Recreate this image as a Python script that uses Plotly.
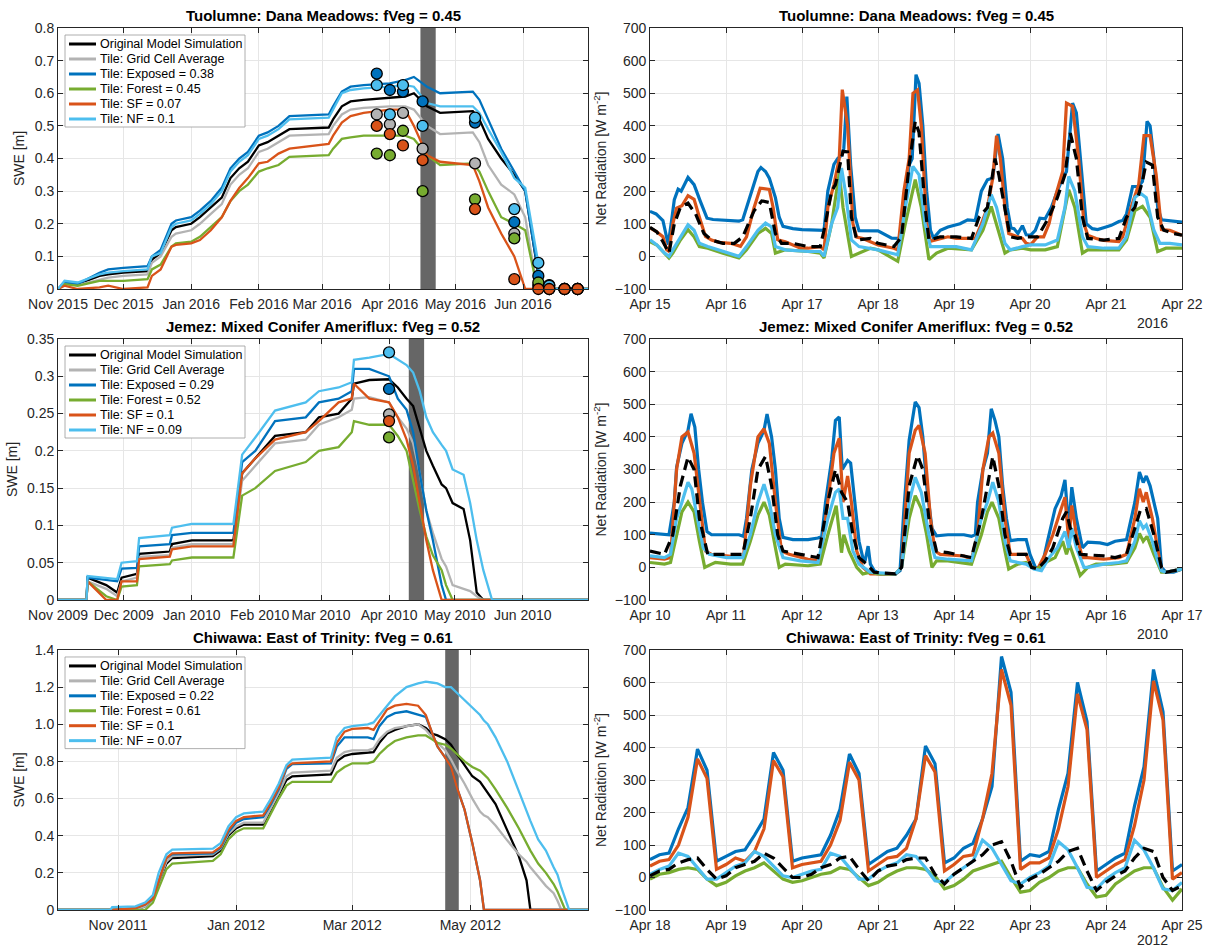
import pandas as pd
import plotly.graph_objects as go

# ---------------- figure geometry ----------------
W, H = 1207, 947
M_L, M_R, M_T, M_B = 58, 25, 28, 37
PW, PH = W - M_L - M_R, H - M_T - M_B

# ---------------- colours / labels ----------------
C_ORIG, C_GRID, C_EXP, C_FOR, C_SF, C_NF = "#000000", "#b3b3b3", "#0072BD", "#77AC30", "#D95319", "#4DBEEE"
C_BAND = "#666666"

TITLE_TL = "Tuolumne: Dana Meadows: fVeg = 0.45"
TITLE_ML = "Jemez: Mixed Conifer Ameriflux: fVeg = 0.52"
TITLE_BL = "Chiwawa: East of Trinity: fVeg = 0.61"

LEG_TL = ["Original Model Simulation", "Tile: Grid Cell Average", "Tile: Exposed = 0.38",
          "Tile: Forest = 0.45", "Tile: SF = 0.07", "Tile: NF = 0.1"]
LEG_ML = ["Original Model Simulation", "Tile: Grid Cell Average", "Tile: Exposed = 0.29",
          "Tile: Forest = 0.52", "Tile: SF = 0.1", "Tile: NF = 0.09"]
LEG_BL = ["Original Model Simulation", "Tile: Grid Cell Average", "Tile: Exposed = 0.22",
          "Tile: Forest = 0.61", "Tile: SF = 0.1", "Tile: NF = 0.07"]

# ---------------- SWE panels (days since start, values in m) ----------------
TL_START = "2015-11-01"
TL_DAYS = [0, 3, 9, 19, 23, 30, 41, 43, 47, 52, 54, 61, 65, 70, 75, 79, 83, 87, 92, 96, 101, 106,
           124, 126, 130, 134, 140, 152, 159, 163, 169, 175, 190, 193, 197, 203, 209, 214, 218, 221, 224, 243]
TL_ORIG = [0, 0.02, 0.015, 0.04, 0.045, 0.05, 0.055, 0.09, 0.11, 0.18, 0.19, 0.2, 0.22, 0.25, 0.28, 0.34, 0.37,
           0.39, 0.44, 0.45, 0.47, 0.49, 0.495, 0.52, 0.56, 0.575, 0.58, 0.585, 0.59, 0.6, 0.56, 0.54, 0.545,
           0.52, 0.46, 0.4, 0.35, 0.3, 0.13, 0.0, 0, 0]
TL_GRID = [0, 0.02, 0.012, 0.03, 0.035, 0.04, 0.045, 0.08, 0.1, 0.16, 0.17, 0.18, 0.2, 0.23, 0.26, 0.32, 0.35,
           0.37, 0.42, 0.43, 0.45, 0.47, 0.475, 0.5, 0.535, 0.55, 0.555, 0.56, 0.56, 0.55, 0.5, 0.475, 0.48,
           0.45, 0.38, 0.32, 0.29, 0.22, 0.06, 0.0, 0, 0]
TL_EXP = [0, 0.02, 0.015, 0.05, 0.06, 0.065, 0.07, 0.1, 0.12, 0.2, 0.21, 0.22, 0.24, 0.27, 0.31, 0.37, 0.4,
          0.42, 0.47, 0.48, 0.5, 0.53, 0.535, 0.56, 0.605, 0.62, 0.625, 0.63, 0.64, 0.65, 0.62, 0.6, 0.605,
          0.58, 0.52, 0.43, 0.36, 0.3, 0.13, 0.02, 0, 0]
TL_FOR = [0, 0.015, 0.01, 0.025, 0.025, 0.025, 0.03, 0.06, 0.075, 0.13, 0.14, 0.145, 0.16, 0.19, 0.22, 0.27,
          0.3, 0.32, 0.36, 0.37, 0.38, 0.405, 0.41, 0.43, 0.46, 0.465, 0.47, 0.47, 0.47, 0.46, 0.41, 0.38,
          0.385, 0.36, 0.3, 0.22, 0.2, 0.18, 0.05, 0.0, 0, 0]
TL_SF = [0, 0.01, 0.0, 0.005, 0.01, 0.0, 0.005, 0.04, 0.06, 0.13, 0.135, 0.14, 0.15, 0.18, 0.22, 0.27, 0.31,
         0.34, 0.385, 0.39, 0.415, 0.43, 0.445, 0.47, 0.51, 0.53, 0.54, 0.55, 0.55, 0.5, 0.41, 0.39, 0.38,
         0.33, 0.25, 0.17, 0.1, 0.0, 0, 0, 0, 0]
TL_NF = [0, 0.025, 0.02, 0.045, 0.05, 0.055, 0.06, 0.1, 0.11, 0.19, 0.2, 0.21, 0.23, 0.26, 0.3, 0.36, 0.39,
         0.41, 0.46, 0.47, 0.49, 0.52, 0.525, 0.55, 0.6, 0.61, 0.615, 0.62, 0.625, 0.62, 0.57, 0.56, 0.56,
         0.54, 0.49, 0.42, 0.34, 0.31, 0.15, 0.04, 0, 0]
# observations (snow survey points)
TL_OBS_DATES = ["2016-03-26", "2016-04-01", "2016-04-07", "2016-04-16", "2016-05-10", "2016-05-28",
                "2016-06-08", "2016-06-13", "2016-06-20", "2016-06-26"]
TL_OBS_GRID = [0.535, 0.505, 0.54, 0.43, 0.385, 0.17, 0.01, 0.0, 0.0, 0.0]
TL_OBS_EXP = [0.66, 0.61, 0.605, 0.575, 0.51, 0.205, 0.04, 0.012, 0.0, 0.0]
TL_OBS_FOR = [0.415, 0.41, 0.485, 0.3, 0.275, 0.155, 0.02, 0.0, 0.0, 0.0]
TL_OBS_NF = [0.625, 0.535, 0.625, 0.5, 0.525, 0.245, 0.08, 0.01, 0.0, 0.0]
TL_OBS_SF = [0.5, 0.475, 0.44, 0.395, 0.245, 0.03, 0.0, 0.0, 0.0, 0.0]

ML_START = "2009-11-01"
ML_DAYS = [0, 13, 13.5, 22, 27, 29, 36, 37, 51, 52, 61, 80, 84, 90, 99, 113, 119, 128, 134, 135, 142, 151,
           155, 159, 162, 165, 168, 171, 175, 177, 180, 185, 188, 191, 194, 198, 242]
ML_ORIG = [0, 0, 0.03, 0.02, 0.01, 0.03, 0.035, 0.062, 0.065, 0.075, 0.08, 0.08, 0.17, 0.19, 0.22, 0.225,
           0.245, 0.25, 0.27, 0.29, 0.295, 0.296, 0.285, 0.27, 0.26, 0.23, 0.2, 0.18, 0.155, 0.15, 0.13,
           0.122, 0.08, 0.01, 0, 0, 0]
ML_GRID = [0, 0, 0.025, 0.015, 0.005, 0.025, 0.03, 0.058, 0.06, 0.07, 0.075, 0.075, 0.16, 0.18, 0.21, 0.215,
           0.235, 0.245, 0.255, 0.27, 0.272, 0.265, 0.245, 0.23, 0.21, 0.17, 0.12, 0.09, 0.055, 0.045, 0.02,
           0.015, 0.012, 0.005, 0, 0, 0]
ML_EXP = [0, 0, 0.03, 0.027, 0.025, 0.042, 0.043, 0.072, 0.075, 0.087, 0.09, 0.09, 0.185, 0.2, 0.24, 0.245,
          0.265, 0.27, 0.28, 0.31, 0.31, 0.3, 0.27, 0.255, 0.225, 0.17, 0.12, 0.08, 0.02, 0, 0, 0, 0, 0, 0, 0, 0]
ML_FOR = [0, 0, 0.025, 0.005, 0.0, 0.018, 0.02, 0.045, 0.048, 0.053, 0.057, 0.057, 0.14, 0.15, 0.173, 0.185,
          0.2, 0.205, 0.225, 0.24, 0.235, 0.235, 0.22, 0.2, 0.16, 0.12, 0.085, 0.06, 0.04, 0.02, 0, 0, 0, 0,
          0, 0, 0]
ML_SF = [0, 0, 0.025, 0.0, 0.0, 0.025, 0.025, 0.055, 0.058, 0.068, 0.072, 0.072, 0.17, 0.19, 0.215, 0.225,
         0.24, 0.265, 0.27, 0.29, 0.27, 0.265, 0.245, 0.215, 0.18, 0.13, 0.08, 0.04, 0.0, 0, 0, 0, 0, 0, 0, 0, 0]
ML_NF = [0, 0, 0.032, 0.03, 0.028, 0.05, 0.052, 0.083, 0.087, 0.097, 0.102, 0.102, 0.195, 0.218, 0.254,
         0.265, 0.28, 0.285, 0.292, 0.322, 0.325, 0.33, 0.322, 0.315, 0.305, 0.28, 0.245, 0.225, 0.208, 0.2,
         0.175, 0.168, 0.13, 0.08, 0.04, 0, 0]
ML_OBS_DATES = ["2010-04-01"]
ML_OBS_GRID = [0.249]
ML_OBS_EXP = [0.283]
ML_OBS_FOR = [0.218]
ML_OBS_NF = [0.332]
ML_OBS_SF = [0.24]

BL_START = "2011-10-01"
BL_DAYS = [0, 27, 28, 40, 45, 49, 52, 56, 59, 80, 84, 88, 92, 96, 106, 110, 114, 118, 121, 141, 144, 148,
           152, 160, 163, 166, 170, 174, 180, 186, 190, 193, 196, 200, 203, 206, 210, 214, 218, 220, 222,
           226, 232, 238, 242, 244, 248, 252, 256, 258, 260, 262, 264, 274]
BL_ORIG = [0, 0, 0, 0.0, 0.02, 0.06, 0.15, 0.25, 0.28, 0.29, 0.32, 0.4, 0.44, 0.46, 0.46, 0.54, 0.62, 0.7,
           0.72, 0.73, 0.8, 0.83, 0.84, 0.85, 0.85, 0.9, 0.95, 0.97, 0.99, 1.0, 0.98, 0.95, 0.94, 0.92, 0.89,
           0.84, 0.78, 0.72, 0.69, 0.66, 0.63, 0.57, 0.43, 0.29, 0.16, 0.0, 0, 0, 0, 0, 0, 0, 0, 0]
BL_GRID = [0, 0, 0, 0.0, 0.02, 0.06, 0.15, 0.26, 0.29, 0.3, 0.33, 0.41, 0.45, 0.47, 0.47, 0.55, 0.63, 0.72,
           0.74, 0.75, 0.82, 0.85, 0.86, 0.86, 0.87, 0.92, 0.96, 0.98, 0.99, 1.0, 0.97, 0.93, 0.9, 0.86, 0.81,
           0.75, 0.68, 0.6, 0.53, 0.51, 0.5, 0.455, 0.375, 0.3, 0.26, 0.23, 0.18, 0.13, 0.09, 0.05, 0.0, 0,
           0, 0]
BL_EXP = [0, 0, 0, 0.01, 0.03, 0.06, 0.15, 0.28, 0.3, 0.305, 0.335, 0.42, 0.47, 0.49, 0.5, 0.57, 0.65, 0.76,
          0.785, 0.79, 0.88, 0.93, 0.93, 0.93, 0.92, 0.99, 1.04, 1.06, 1.07, 1.05, 1.04, 0.96, 0.88, 0.82,
          0.77, 0.66, 0.54, 0.36, 0.16, 0.0, 0, 0, 0, 0, 0, 0, 0, 0, 0, 0, 0, 0, 0, 0]
BL_FOR = [0, 0, 0, 0, 0.0, 0.04, 0.12, 0.22, 0.25, 0.265, 0.3, 0.38, 0.42, 0.44, 0.44, 0.52, 0.6, 0.67, 0.69,
          0.69, 0.74, 0.77, 0.79, 0.79, 0.8, 0.84, 0.88, 0.91, 0.93, 0.94, 0.94, 0.92, 0.9, 0.89, 0.87, 0.84,
          0.8, 0.77, 0.75, 0.73, 0.71, 0.65, 0.55, 0.44, 0.36, 0.32, 0.25, 0.2, 0.14, 0.1, 0.05, 0.0, 0, 0]
BL_SF = [0, 0, 0, 0.01, 0.03, 0.06, 0.15, 0.28, 0.305, 0.31, 0.34, 0.43, 0.48, 0.5, 0.51, 0.58, 0.66, 0.77,
         0.79, 0.8, 0.9, 0.96, 0.975, 0.98, 0.97, 1.02, 1.08, 1.1, 1.11, 1.1, 1.05, 0.96, 0.88, 0.82, 0.77,
         0.66, 0.54, 0.36, 0.16, 0.0, 0, 0, 0, 0, 0, 0, 0, 0, 0, 0, 0, 0, 0, 0]
BL_NF = [0, 0, 0.015, 0.02, 0.04, 0.08, 0.2, 0.3, 0.325, 0.33, 0.36, 0.45, 0.5, 0.52, 0.53, 0.6, 0.68, 0.78,
         0.81, 0.82, 0.93, 0.98, 0.99, 1.0, 1.01, 1.05, 1.1, 1.15, 1.2, 1.22, 1.23, 1.225, 1.22, 1.2, 1.2,
         1.17, 1.13, 1.09, 1.05, 1.02, 1.0, 0.93, 0.8, 0.64, 0.53, 0.48, 0.38, 0.32, 0.23, 0.19, 0.12, 0.06,
         0, 0]

# study weeks shown in the right panels
BAND_TL = ["2016-04-15", "2016-04-22"]
BAND_ML = ["2010-04-10", "2010-04-17"]
BAND_BL = ["2012-04-18", "2012-04-25"]

# visible date windows of the SWE panels
RANGE_TL = ["2015-11-01", "2016-06-30 18:00"]
RANGE_ML = ["2009-11-01", "2010-06-30 18:00"]
RANGE_BL = ["2011-10-01", "2012-06-30 18:00"]

# ---------------- Net radiation panels: (days since start, W m-2) ----------------
TR_START = "2016-04-15"
TR_EXP = [(0, 138), (0.08, 130), (0.17, 110), (0.24, 36), (0.29, 120), (0.32, 174), (0.37, 206), (0.41, 200),
          (0.50, 242), (0.58, 220), (0.66, 170), (0.75, 117), (0.83, 113), (1.0, 110), (1.17, 108), (1.22, 112),
          (1.42, 260), (1.46, 272), (1.52, 260), (1.57, 240), (1.65, 180), (1.70, 120), (1.75, 92), (1.88, 85),
          (2.0, 82), (2.29, 80), (2.34, 200), (2.42, 282), (2.47, 300), (2.52, 310), (2.55, 330), (2.59, 490),
          (2.64, 280), (2.70, 120), (2.75, 79), (3.0, 78), (3.18, 56), (3.29, 55), (3.31, 60), (3.37, 200),
          (3.41, 280), (3.45, 300), (3.50, 557), (3.54, 530), (3.59, 400), (3.64, 200), (3.69, 80), (3.73, 56),
          (3.82, 80), (3.92, 90), (4.0, 95), (4.08, 100), (4.18, 112), (4.28, 110), (4.36, 200), (4.44, 235),
          (4.51, 240), (4.58, 375), (4.64, 300), (4.70, 150), (4.75, 87), (4.79, 85), (4.84, 70), (4.90, 94),
          (4.95, 66), (5.01, 65), (5.07, 80), (5.13, 117), (5.20, 115), (5.28, 150), (5.36, 200), (5.43, 240),
          (5.48, 260), (5.56, 470), (5.61, 440), (5.66, 300), (5.74, 100), (5.82, 85), (5.89, 82), (6.0, 90),
          (6.07, 95), (6.17, 107), (6.22, 110), (6.27, 130), (6.35, 214), (6.43, 215), (6.48, 230), (6.54, 414),
          (6.58, 400), (6.63, 300), (6.68, 150), (6.73, 112), (6.84, 110), (7.0, 105)]
TR_SF = [(0, 87), (0.09, 75), (0.17, 60), (0.22, 20), (0.25, 15), (0.30, 100), (0.35, 148), (0.42, 155),
         (0.50, 186), (0.58, 175), (0.65, 120), (0.73, 61), (0.81, 50), (0.91, 43), (1.06, 40), (1.14, 35),
         (1.19, 31), (1.27, 60), (1.37, 150), (1.45, 209), (1.57, 205), (1.62, 150), (1.68, 51), (1.78, 45),
         (1.88, 35), (1.98, 25), (2.08, 25), (2.24, 30), (2.29, 20), (2.34, 150), (2.42, 220), (2.49, 300),
         (2.53, 511), (2.60, 400), (2.67, 100), (2.72, 59), (2.80, 55), (2.90, 45), (3.0, 35), (3.21, 25),
         (3.26, 20), (3.34, 200), (3.41, 300), (3.46, 500), (3.52, 510), (3.57, 400), (3.64, 100), (3.69, 46),
         (3.77, 50), (3.92, 60), (4.03, 55), (4.28, 55), (4.36, 100), (4.44, 150), (4.51, 240), (4.56, 370),
         (4.61, 300), (4.67, 150), (4.72, 70), (4.82, 61), (4.90, 55), (4.95, 40), (5.01, 36), (5.10, 60),
         (5.18, 60), (5.25, 100), (5.33, 180), (5.43, 260), (5.48, 470), (5.56, 460), (5.64, 300), (5.71, 100),
         (5.76, 65), (5.87, 55), (5.97, 49), (6.17, 45), (6.22, 60), (6.33, 150), (6.43, 220), (6.50, 370),
         (6.58, 370), (6.66, 250), (6.73, 82), (6.84, 80), (7.0, 65)]
TR_ORIG = [(0, 89), (0.09, 75), (0.17, 45), (0.25, 10), (0.32, 100), (0.40, 150), (0.50, 163), (0.60, 130),
           (0.71, 70), (0.81, 50), (0.96, 40), (1.11, 40), (1.22, 60), (1.37, 140), (1.47, 170), (1.57, 165),
           (1.65, 70), (1.73, 40), (1.88, 40), (2.08, 30), (2.24, 30), (2.29, 80), (2.39, 200), (2.44, 220),
           (2.54, 322), (2.60, 320), (2.65, 120), (2.72, 50), (2.90, 55), (3.0, 40), (3.21, 30), (3.31, 60),
           (3.41, 280), (3.49, 414), (3.54, 380), (3.62, 150), (3.67, 50), (3.82, 60), (4.03, 60), (4.23, 55),
           (4.33, 120), (4.44, 150), (4.54, 300), (4.59, 250), (4.69, 120), (4.74, 60), (4.84, 55), (4.95, 60),
           (5.10, 60), (5.25, 120), (5.36, 180), (5.46, 250), (5.53, 378), (5.61, 300), (5.69, 120), (5.76, 55),
           (5.97, 50), (6.17, 55), (6.27, 120), (6.38, 150), (6.48, 230), (6.53, 289), (6.61, 280), (6.68, 120),
           (6.76, 80), (6.89, 70), (7.0, 65)]
TR_NF = [(0, 51), (0.09, 35), (0.19, 10), (0.25, 0), (0.30, 20), (0.40, 60), (0.50, 97), (0.58, 80), (0.65, 40),
         (0.76, 30), (0.96, 15), (1.17, 0), (1.27, 30), (1.42, 80), (1.52, 102), (1.60, 90), (1.65, 30),
         (1.78, 20), (2.08, 15), (2.24, 15), (2.29, 0), (2.39, 100), (2.47, 150), (2.52, 271), (2.57, 200),
         (2.65, 50), (2.75, 30), (3.0, 20), (3.26, 5), (3.36, 150), (3.46, 276), (3.54, 250), (3.62, 100),
         (3.69, 30), (3.82, 30), (4.03, 30), (4.23, 20), (4.38, 100), (4.49, 189), (4.56, 150), (4.67, 40),
         (4.74, 20), (4.90, 30), (5.01, 35), (5.20, 35), (5.36, 50), (5.46, 150), (5.51, 245), (5.59, 200),
         (5.69, 60), (5.76, 30), (5.97, 25), (6.17, 25), (6.27, 60), (6.38, 180), (6.45, 194), (6.53, 180),
         (6.63, 80), (6.71, 40), (6.84, 40), (7.0, 35)]
TR_FOR = [(0, 45), (0.09, 35), (0.19, 10), (0.25, -5), (0.30, 10), (0.40, 50), (0.50, 82), (0.58, 60),
          (0.65, 30), (0.76, 25), (0.96, 10), (1.17, -5), (1.27, 20), (1.42, 70), (1.52, 86), (1.60, 70),
          (1.65, 10), (1.78, 20), (2.08, 15), (2.24, 10), (2.29, -5), (2.39, 100), (2.49, 255), (2.54, 150),
          (2.65, 0), (2.75, 10), (2.90, 25), (3.0, 20), (3.26, -15), (3.36, 100), (3.49, 235), (3.57, 150),
          (3.67, -10), (3.77, 10), (3.92, 25), (4.23, 20), (4.38, 80), (4.49, 153), (4.56, 100), (4.67, 10),
          (4.74, 20), (4.90, 25), (5.01, 20), (5.20, 20), (5.36, 30), (5.46, 150), (5.51, 204), (5.59, 150),
          (5.69, 10), (5.76, 20), (5.97, 20), (6.17, 20), (6.27, 50), (6.38, 140), (6.48, 153), (6.58, 120),
          (6.68, 15), (6.79, 25), (7.0, 25)]

MR_START = "2010-04-10"
MR_EXP = [(0, 105), (0.19, 100), (0.25, 100), (0.32, 200), (0.35, 307), (0.42, 380), (0.50, 420), (0.54, 471),
          (0.59, 430), (0.64, 300), (0.69, 200), (0.75, 110), (0.81, 100), (1.01, 100), (1.17, 100), (1.23, 95),
          (1.27, 150), (1.34, 300), (1.42, 380), (1.50, 420), (1.54, 470), (1.60, 400), (1.65, 300), (1.70, 150),
          (1.75, 92), (1.88, 85), (2.08, 85), (2.21, 90), (2.26, 95), (2.31, 200), (2.39, 330), (2.44, 450),
          (2.49, 461), (2.53, 300), (2.60, 328), (2.64, 320), (2.70, 200), (2.75, 80), (2.80, 30), (2.83, 20),
          (2.87, 65), (2.90, 10), (2.95, -10), (3.03, -20), (3.23, -20), (3.29, -10), (3.34, 174), (3.41, 390),
          (3.49, 507), (3.54, 490), (3.59, 400), (3.64, 250), (3.71, 120), (3.77, 97), (3.92, 100), (4.13, 100),
          (4.23, 95), (4.28, 100), (4.31, 200), (4.38, 300), (4.44, 350), (4.49, 486), (4.54, 450), (4.59, 400),
          (4.64, 250), (4.69, 150), (4.74, 82), (4.84, 85), (4.95, 85), (5.0, 40), (5.07, 0), (5.15, -5),
          (5.23, 80), (5.33, 180), (5.41, 220), (5.46, 268), (5.51, 120), (5.55, 246), (5.61, 150), (5.69, 60),
          (5.76, 77), (5.92, 75), (6.02, 70), (6.12, 80), (6.27, 85), (6.38, 200), (6.44, 292), (6.49, 260),
          (6.53, 280), (6.58, 250), (6.68, 150), (6.73, 0), (6.79, -15), (6.89, -15), (7.0, -5)]
MR_SF = [(0, 30), (0.19, 25), (0.27, 30), (0.35, 300), (0.42, 400), (0.50, 415), (0.58, 350), (0.65, 200),
         (0.73, 50), (0.81, 40), (1.17, 30), (1.23, 30), (1.32, 250), (1.42, 400), (1.50, 425), (1.57, 380),
         (1.65, 200), (1.73, 50), (1.83, 40), (2.08, 25), (2.24, 20), (2.34, 200), (2.42, 350), (2.49, 396),
         (2.54, 200), (2.60, 280), (2.65, 200), (2.72, 50), (2.80, 0), (2.90, -20), (3.03, -20), (3.23, -20),
         (3.31, 0), (3.41, 350), (3.49, 420), (3.54, 435), (3.62, 350), (3.69, 150), (3.75, 50), (3.82, 40),
         (4.13, 35), (4.23, 25), (4.31, 100), (4.38, 300), (4.46, 400), (4.51, 412), (4.59, 350), (4.67, 150),
         (4.74, 40), (4.84, 40), (4.95, 40), (5.02, 0), (5.10, -5), (5.20, 40), (5.30, 100), (5.41, 180),
         (5.46, 215), (5.51, 80), (5.55, 190), (5.61, 100), (5.69, 30), (5.76, 30), (5.97, 25), (6.17, 30),
         (6.27, 40), (6.38, 150), (6.44, 241), (6.49, 200), (6.53, 230), (6.61, 150), (6.68, 50), (6.73, -10),
         (6.79, -15), (7.0, -5)]
MR_ORIG = [(0, 50), (0.19, 40), (0.30, 100), (0.40, 250), (0.50, 338), (0.58, 300), (0.65, 150), (0.76, 40),
           (1.01, 40), (1.22, 40), (1.32, 150), (1.42, 300), (1.52, 340), (1.60, 250), (1.68, 100), (1.75, 50),
           (1.98, 40), (2.21, 30), (2.34, 200), (2.44, 300), (2.52, 230), (2.60, 200), (2.67, 100), (2.75, 30),
           (2.85, 10), (2.95, -15), (3.23, -20), (3.31, 0), (3.41, 250), (3.52, 343), (3.59, 300), (3.67, 150),
           (3.77, 50), (3.92, 45), (4.23, 30), (4.36, 150), (4.44, 250), (4.51, 340), (4.59, 250), (4.67, 100),
           (4.74, 40), (4.95, 40), (5.02, 0), (5.10, -5), (5.20, 20), (5.30, 60), (5.43, 150), (5.48, 170),
           (5.53, 120), (5.59, 100), (5.66, 40), (5.97, 35), (6.12, 30), (6.27, 40), (6.38, 120), (6.45, 174),
           (6.53, 180), (6.63, 100), (6.73, 0), (6.79, -15), (7.0, -5)]
MR_NF = [(0, 35), (0.19, 30), (0.27, 40), (0.35, 150), (0.42, 200), (0.50, 261), (0.55, 240), (0.63, 150),
         (0.70, 60), (0.78, 40), (1.01, 30), (1.22, 30), (1.32, 100), (1.42, 200), (1.50, 255), (1.57, 200),
         (1.65, 100), (1.75, 30), (1.98, 20), (2.21, 15), (2.34, 150), (2.44, 230), (2.49, 240), (2.54, 150),
         (2.60, 150), (2.67, 50), (2.75, 10), (2.90, -15), (3.23, -20), (3.31, 0), (3.41, 200), (3.49, 276),
         (3.57, 230), (3.67, 100), (3.75, 30), (3.92, 25), (4.23, 20), (4.36, 150), (4.44, 200), (4.51, 261),
         (4.59, 200), (4.67, 80), (4.74, 20), (4.95, 10), (5.05, -5), (5.15, -10), (5.25, 30), (5.36, 60),
         (5.46, 110), (5.51, 60), (5.55, 120), (5.61, 60), (5.71, 0), (5.76, 0), (5.97, 10), (6.17, 15),
         (6.27, 20), (6.38, 80), (6.44, 143), (6.49, 120), (6.53, 130), (6.61, 80), (6.68, 20), (6.73, -10),
         (6.79, -15), (7.0, -5)]
MR_FOR = [(0, 15), (0.19, 10), (0.27, 15), (0.35, 100), (0.42, 170), (0.50, 200), (0.58, 170), (0.65, 80),
          (0.72, 0), (0.81, 10), (0.86, 15), (1.06, 10), (1.22, 10), (1.32, 80), (1.42, 160), (1.50, 200),
          (1.57, 160), (1.65, 60), (1.70, 0), (1.78, 10), (2.08, 5), (2.24, 10), (2.34, 100), (2.45, 189),
          (2.52, 45), (2.55, 100), (2.62, 50), (2.72, 0), (2.80, -20), (2.90, -15), (3.0, -20), (3.23, -20),
          (3.31, 0), (3.41, 150), (3.49, 220), (3.57, 180), (3.64, 100), (3.71, 0), (3.77, 20), (3.92, 20),
          (4.23, 10), (4.36, 100), (4.44, 170), (4.50, 200), (4.59, 150), (4.67, 50), (4.72, -5), (4.84, 10),
          (4.95, 15), (5.02, 0), (5.10, -5), (5.20, 15), (5.33, 30), (5.43, 80), (5.48, 40), (5.52, 70),
          (5.59, 20), (5.66, -25), (5.76, 0), (5.87, 10), (6.07, 10), (6.27, 15), (6.38, 60), (6.44, 104),
          (6.49, 80), (6.54, 95), (6.63, 40), (6.73, -15), (6.79, -15), (7.0, -5)]

# bottom-right: 3-hourly values, Apr 18 00:00 .. Apr 25 00:00 2012
BR_START = "2012-04-18"
BR_HOURS = list(range(0, 169, 3))
BR_EXP = [55, 70, 75, 150, 215, 395, 330, 50, 65, 80, 85, 130, 180, 385, 330, 50,
          60, 65, 70, 130, 210, 380, 320, 40, 60, 80, 90, 130, 180, 405, 350, 45,
          60, 90, 105, 180, 280, 680, 570, 50, 70, 65, 80, 210, 320, 600, 480, 20,
          40, 60, 75, 220, 340, 640, 510, 20, 40]
BR_SF = [35, 50, 55, 100, 185, 365, 305, 25, 40, 60, 50, 80, 150, 360, 310, 30,
         40, 45, 50, 100, 175, 355, 300, 20, 40, 60, 65, 90, 180, 375, 325, 20,
         40, 65, 70, 180, 320, 640, 530, 25, 45, 45, 60, 150, 280, 565, 455, 0,
         20, 40, 55, 160, 300, 605, 485, -5, 15]
BR_NF = [10, 25, 35, 75, 65, 30, -5, -5, 15, 35, 45, 80, 65, 35, 5, 0,
         10, 20, 25, 75, 65, 30, -5, -5, 20, 35, 45, 70, 65, 30, -10, -15,
         10, 30, 50, 115, 90, 40, -10, -20, 0, 15, 35, 110, 85, 30, -30, -35,
         -5, 15, 30, 115, 85, 30, -35, -40, -15]
BR_ORIG = [5, 20, 25, 45, 55, 60, 25, -5, 5, 30, 40, 50, 75, 60, 30, 0,
           0, 10, 30, 40, 60, 65, 25, -10, 20, 35, 40, 55, 60, 60, 10, -20,
           10, 30, 50, 70, 100, 110, 50, -30, -5, 10, 30, 50, 80, 90, 20, -40,
           -15, 5, 20, 60, 90, 80, 0, -40, -25]
BR_FOR = [-5, 10, 15, 25, 30, 25, -5, -25, -15, 5, 20, 30, 45, 20, -5, -15,
          -10, 0, 10, 15, 30, 25, 0, -25, -15, 5, 20, 30, 30, 25, 5, -35,
          -25, -5, 20, 30, 40, 50, 0, -45, -40, -15, 0, 20, 30, 30, -20, -60,
          -55, -20, 0, 20, 30, 30, -30, -70, -35]

# ---------------- tick labels ----------------
TL_YTICKS = [0, 0.1, 0.2, 0.3, 0.4, 0.5, 0.6, 0.7, 0.8]
TL_YTEXT = ["0", "0.1", "0.2", "0.3", "0.4", "0.5", "0.6", "0.7", "0.8"]
ML_YTICKS = [0, 0.05, 0.1, 0.15, 0.2, 0.25, 0.3, 0.35]
ML_YTEXT = ["0", "0.05", "0.1", "0.15", "0.2", "0.25", "0.3", "0.35"]
BL_YTICKS = [0, 0.2, 0.4, 0.6, 0.8, 1.0, 1.2, 1.4]
BL_YTEXT = ["0", "0.2", "0.4", "0.6", "0.8", "1.0", "1.2", "1.4"]
R_YTICKS = [-100, 0, 100, 200, 300, 400, 500, 600, 700]

TICK_FS, TITLE_FS, AXTITLE_FS, LEG_FS = 14, 15, 14, 12.5


# ---------------- helpers ----------------
def to_dates(start, offsets, unit="D"):
    t0 = pd.Timestamp(start)
    return [(t0 + pd.to_timedelta(float(d), unit=unit)).round("s").strftime("%Y-%m-%d %H:%M:%S")
            for d in offsets]


def unzip(pairs):
    return [p[0] for p in pairs], [p[1] for p in pairs]


def xdom(p0, p1):
    return [max(0.0, (p0 - M_L) / PW), min(1.0, (p1 - M_L) / PW)]


def ydom(top, bottom):
    return [max(0.0, (H - M_B - bottom) / PH), min(1.0, (H - M_B - top) / PH)]


AX = dict(showline=True, linecolor="#262626", linewidth=0.8, mirror="ticks", ticks="inside", ticklen=5,
          tickcolor="#262626", tickwidth=0.8, showgrid=True, gridcolor="#e6e6e6", gridwidth=1,
          zeroline=False, tickfont=dict(size=TICK_FS, color="#262626"), automargin=False)

LEFT_X = xdom(58, 588)
RIGHT_X = xdom(650, 1182)
ROWS = [ydom(28, 289), ydom(339, 600), ydom(650, 910)]

fig = go.Figure()
shapes, annos = [], []


def add_line(x, y, color, xa, ya, width=2.0, dash=None):
    fig.add_trace(go.Scatter(x=x, y=y, mode="lines", line=dict(color=color, width=width, dash=dash),
                             xaxis=xa, yaxis=ya, showlegend=False, cliponaxis=False, hoverinfo="skip"))


def add_obs(x, y, color, xa, ya):
    fig.add_trace(go.Scatter(x=x, y=y, mode="markers",
                             marker=dict(color=color, size=11, line=dict(color="black", width=1.3)),
                             xaxis=xa, yaxis=ya, showlegend=False, cliponaxis=False, hoverinfo="skip"))


def swe_panel(n, start, days, series, band, obs, labels, title, xrange, dtick, tick0, yticks, ytext, row):
    xa, ya = ("x" if n == 1 else f"x{n}"), ("y" if n == 1 else f"y{n}")
    lay_x, lay_y = ("xaxis" if n == 1 else f"xaxis{n}"), ("yaxis" if n == 1 else f"yaxis{n}")
    dts = to_dates(start, days)
    # grey band marking the week shown at right (filled area, under the curves)
    fig.add_trace(go.Scatter(x=[band[0], band[0], band[1], band[1]],
                             y=[yticks[0], yticks[-1], yticks[-1], yticks[0]],
                             fill="toself", fillcolor=C_BAND, mode="lines", line=dict(width=0, color=C_BAND),
                             xaxis=xa, yaxis=ya, showlegend=False, hoverinfo="skip"))
    colors = [C_ORIG, C_GRID, C_EXP, C_FOR, C_SF, C_NF]
    for vals, col in zip(series, colors):
        add_line(dts, vals, col, xa, ya, width=2.3)
    if obs is not None:
        odates, og, oe, of, on, os_ = obs
        for vals, col in ((og, C_GRID), (oe, C_EXP), (of, C_FOR), (on, C_NF), (os_, C_SF)):
            add_obs(odates, vals, col, xa, ya)
    fig.layout[lay_x] = dict(AX, domain=LEFT_X, anchor=ya, type="date", range=xrange, dtick=dtick,
                             tick0=tick0, tickformat="%b %Y", ticklabelstandoff=2)
    fig.layout[lay_y] = dict(AX, domain=ROWS[row], anchor=xa, range=[yticks[0], yticks[-1]],
                             tickvals=yticks, ticktext=ytext,
                             title=dict(text="SWE [m]", font=dict(size=AXTITLE_FS, color="#262626"), standoff=6))
    annos.append(dict(text=f"<b>{title}</b>", xref=f"{xa} domain", yref=f"{ya} domain", x=0.5, y=1,
                      xanchor="center", yanchor="bottom", yshift=2, showarrow=False,
                      font=dict(size=TITLE_FS, color="black")))
    # legend box (pixel offsets inside the axes)
    axw, axh = 530.0, 261.0
    shapes.append(dict(type="rect", xref=f"{xa} domain", yref=f"{ya} domain", x0=7 / axw, x1=187 / axw,
                       y0=1 - 99 / axh, y1=1 - 7 / axh, fillcolor="white",
                       line=dict(color="#9a9a9a", width=0.8), layer="above"))
    for i, (lab, col) in enumerate(zip(labels, colors)):
        yc = 1 - (16 + 15 * i) / axh
        shapes.append(dict(type="line", xref=f"{xa} domain", yref=f"{ya} domain", x0=11 / axw, x1=38 / axw,
                           y0=yc, y1=yc, line=dict(color=col, width=3), layer="above"))
        annos.append(dict(text=lab, xref=f"{xa} domain", yref=f"{ya} domain", x=40 / axw, y=yc,
                          xanchor="left", yanchor="middle", showarrow=False,
                          font=dict(size=LEG_FS, color="black")))


def rad_panel(n, start, series_xy, title, year, row, year_shift):
    xa, ya = f"x{n}", f"y{n}"
    colors = [C_EXP, C_SF, C_FOR, C_NF, C_ORIG]
    for (xs, ys), col in zip(series_xy, colors):
        if col == C_ORIG:
            add_line(xs, ys, col, xa, ya, width=3.2, dash="11px,6px")
        else:
            add_line(xs, ys, col, xa, ya, width=3.2)
    t0 = pd.Timestamp(start)
    fig.layout[f"xaxis{n}"] = dict(AX, domain=RIGHT_X, anchor=ya, type="date",
                                   range=[t0, t0 + pd.Timedelta(days=7)], dtick=86400000, tick0=t0,
                                   tickformat="%b %d", ticklabeloverflow="allow", ticklabelstandoff=2)
    fig.layout[f"yaxis{n}"] = dict(AX, domain=ROWS[row], anchor=xa, range=[-100, 700], tickvals=R_YTICKS,
                                   title=dict(text="Net Radiation [W m<sup>-2</sup>]",
                                              font=dict(size=AXTITLE_FS, color="#262626"), standoff=4))
    annos.append(dict(text=f"<b>{title}</b>", xref=f"{xa} domain", yref=f"{ya} domain", x=0.5, y=1,
                      xanchor="center", yanchor="bottom", yshift=2, showarrow=False,
                      font=dict(size=TITLE_FS, color="black")))
    annos.append(dict(text=year, xref=f"{xa} domain", yref=f"{ya} domain", x=1, y=0, xanchor="right",
                      yanchor="top", xshift=-12, yshift=year_shift, showarrow=False,
                      font=dict(size=TICK_FS, color="#262626")))


def rad_series(start, pairs_list):
    out = []
    for pairs in pairs_list:
        d, v = unzip(pairs)
        out.append((to_dates(start, d), v))
    return out


# ---------------- build panels ----------------
swe_panel(1, TL_START, TL_DAYS, [TL_ORIG, TL_GRID, TL_EXP, TL_FOR, TL_SF, TL_NF], BAND_TL,
          (TL_OBS_DATES, TL_OBS_GRID, TL_OBS_EXP, TL_OBS_FOR, TL_OBS_NF, TL_OBS_SF), LEG_TL, TITLE_TL,
          RANGE_TL, "M1", "2015-11-01", TL_YTICKS, TL_YTEXT, 0)
rad_panel(2, TR_START, rad_series(TR_START, [TR_EXP, TR_SF, TR_FOR, TR_NF, TR_ORIG]), TITLE_TL, "2016", 0, -24)

swe_panel(3, ML_START, ML_DAYS, [ML_ORIG, ML_GRID, ML_EXP, ML_FOR, ML_SF, ML_NF], BAND_ML,
          (ML_OBS_DATES, ML_OBS_GRID, ML_OBS_EXP, ML_OBS_FOR, ML_OBS_NF, ML_OBS_SF), LEG_ML, TITLE_ML,
          RANGE_ML, "M1", "2009-11-01", ML_YTICKS, ML_YTEXT, 1)
rad_panel(4, MR_START, rad_series(MR_START, [MR_EXP, MR_SF, MR_FOR, MR_NF, MR_ORIG]), TITLE_ML, "2010", 1, -24)

swe_panel(5, BL_START, BL_DAYS, [BL_ORIG, BL_GRID, BL_EXP, BL_FOR, BL_SF, BL_NF], BAND_BL, None, LEG_BL,
          TITLE_BL, RANGE_BL, "M2", "2011-11-01", BL_YTICKS, BL_YTEXT, 2)
br_x = to_dates(BR_START, BR_HOURS, unit="h")
rad_panel(6, BR_START, [(br_x, BR_EXP), (br_x, BR_SF), (br_x, BR_FOR), (br_x, BR_NF), (br_x, BR_ORIG)],
          TITLE_BL, "2012", 2, -20)

fig.update_layout(width=W, height=H, autosize=False, margin=dict(l=M_L, r=M_R, t=M_T, b=M_B),
                  paper_bgcolor="white", plot_bgcolor="white",
                  font=dict(family="Liberation Sans, Arial, Helvetica, sans-serif", color="#262626"),
                  shapes=shapes, annotations=annos, showlegend=False)

# remove the page's default body margin so the 1207x947 figure fills the window exactly
fig.write_html("out.html", config={"displayModeBar": False},
               post_script="document.body.style.margin='0px';document.body.style.overflow='hidden';")
